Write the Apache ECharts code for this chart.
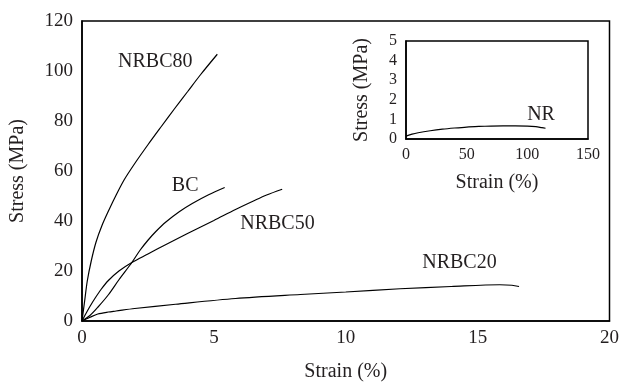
<!DOCTYPE html>
<html>
<head>
<meta charset="utf-8">
<script src="https://cdn.jsdelivr.net/npm/echarts@6/dist/echarts.min.js"></script>
<style>
html,body{margin:0;padding:0;background:#fff;}
#c{width:622px;height:387px;}
</style>
</head>
<body>
<div id="c"></div>
<script>
// Data (strain %, stress MPa)
const nrbc80 = [[0,0],[0.1,8],[0.2,16],[0.35,24],[0.53,31.5],[0.75,38],[1.03,44.6],[1.3,50.5],[1.6,56.5],[2,63],[2.5,70.5],[3,77.7],[3.5,84.8],[4,91.7],[4.5,98.6],[5.13,106.7]];
const bc = [[0,0],[0.3,2.2],[0.6,5.5],[1,10.5],[1.4,16.5],[1.89,23.4],[2.2,28.3],[2.5,32.3],[2.8,35.8],[3.18,39.6],[3.7,43.8],[4.18,47],[4.8,50.5],[5.41,53.4]];
const nrbc50 = [[0,0],[0.15,3],[0.3,5.8],[0.5,9.2],[0.72,12.6],[1,16.2],[1.4,20],[1.89,23.4],[2.5,26.8],[3,29.6],[4,35],[5,40.2],[5.82,44.6],[6.5,48],[7,50.4],[7.59,52.7]];
const nrbc20 = [[0,0],[0.3,1.5],[0.6,2.8],[1,3.6],[1.29,4],[2,5],[3.55,6.7],[5.82,9],[8.28,10.6],[10,11.6],[12.06,12.9],[14,13.8],[15.84,14.5],[16.3,14.3],[16.57,13.8]];
const nr = [[0,0.15],[5,0.25],[10,0.32],[20,0.42],[30,0.5],[40,0.56],[50,0.61],[60,0.64],[70,0.66],[80,0.67],[90,0.67],[100,0.66],[107,0.63],[112,0.58],[115,0.55]];
const curveNames = ['NRBC80','BC','NRBC50','NRBC20'];
const labelPos = [[2.78,103.9],[3.91,54.1],[7.41,38.8],[14.31,23.5]];
const insetName = 'NR';
const insetLabelPos = [111.3,1.22];

const FONT = 'Liberation Serif';
const TXT = '#231f20';
const chart = echarts.init(document.getElementById('c'), null, {renderer:'canvas'});

function lineSeries(data, xi, yi){
  return {type:'line', data:data, xAxisIndex:xi, yAxisIndex:yi, showSymbol:false, smooth:0.3,
    lineStyle:{color:'#000', width:1.2}, silent:true, animation:false, z:3};
}
function labelSeries(pos, name, xi, yi){
  return {type:'scatter', xAxisIndex:xi, yAxisIndex:yi, symbolSize:0, silent:true, animation:false, z:5,
    itemStyle:{opacity:1, color:TXT},
    data:[{value:pos, name:name}],
    label:{show:true, position:'inside', formatter:'{b}', color:TXT, opacity:1, textBorderWidth:0, fontFamily:FONT, fontSize:20}};
}

const series = [];
[nrbc80, bc, nrbc50, nrbc20].forEach(d => series.push(lineSeries(d,0,0)));
curveNames.forEach((n,i) => series.push(labelSeries(labelPos[i], n, 0, 0)));
series.push(lineSeries(nr,1,1));
series.push(labelSeries(insetLabelPos, insetName, 1, 1));

const axisCommon = {
  axisLine:{show:true, lineStyle:{color:'#000', width:1.5}},
  axisTick:{show:false}, splitLine:{show:false},
  nameLocation:'middle',
  nameTextStyle:{color:TXT, fontFamily:FONT, fontSize:20}
};

chart.setOption({
  animation:false,
  backgroundColor:'#fff',
  grid:[
    {left:81, right:12, top:21, bottom:60, show:true, borderColor:'#000', borderWidth:1.5, backgroundColor:'transparent'},
    {left:406, right:34, top:41, bottom:248, show:true, borderColor:'#000', borderWidth:1.5, backgroundColor:'#fff', z:2}
  ],
  xAxis:[
    Object.assign({}, axisCommon, {type:'value', gridIndex:0, min:0, max:20, interval:5, name:'Strain (%)', nameGap:41,
      axisLabel:{color:TXT, fontFamily:FONT, fontSize:19, margin:8}}),
    Object.assign({}, axisCommon, {type:'value', gridIndex:1, min:0, max:150, interval:50, name:'Strain (%)', nameGap:34, z:4,
      axisLabel:{color:TXT, fontFamily:FONT, fontSize:16, margin:8}})
  ],
  yAxis:[
    Object.assign({}, axisCommon, {type:'value', gridIndex:0, min:0, max:120, interval:20, name:'Stress (MPa)', nameGap:54,
      axisLabel:{color:TXT, fontFamily:FONT, fontSize:19, margin:9}}),
    Object.assign({}, axisCommon, {type:'value', gridIndex:1, min:0, max:5, interval:1, name:'Stress (MPa)', nameGap:34, z:4,
      axisLabel:{color:TXT, fontFamily:FONT, fontSize:16, margin:9}})
  ],
  series:series
});
</script>
</body>
</html>
